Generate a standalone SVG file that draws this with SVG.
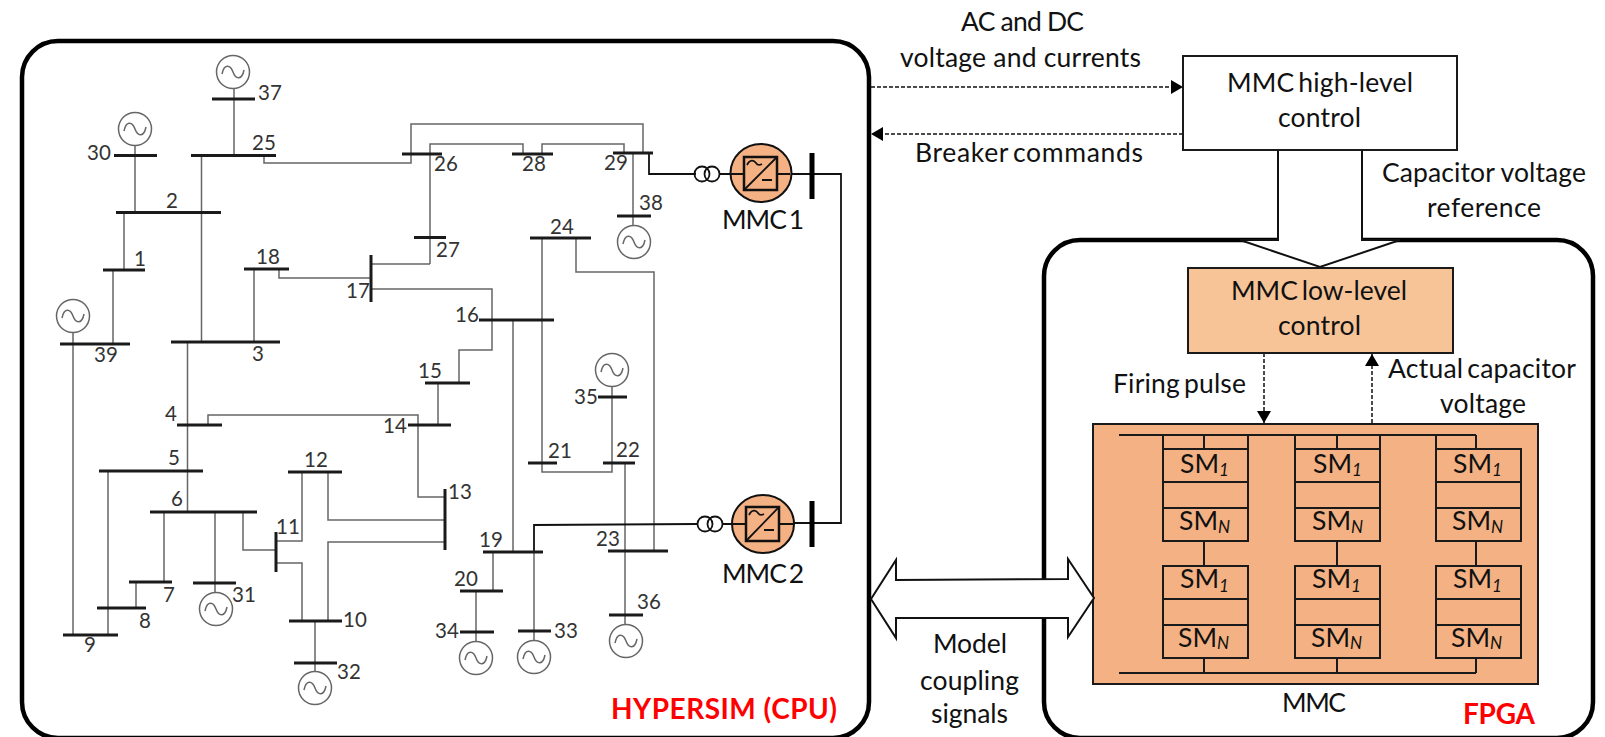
<svg xmlns="http://www.w3.org/2000/svg" width="1605" height="737" viewBox="0 0 1605 737">
<style>
text{font-family:Lato,"Liberation Sans",sans-serif;fill:#111}
.n{font-size:20.500px;fill:#333}
.t{font-size:26.500px}
.tn{font-size:26.500px;word-spacing:-3px}
.sub{font-size:17px;font-style:italic}
.red{font-size:28px;font-weight:700;fill:#f00}
.panel{fill:none;stroke:#000;stroke-width:4.5}
.bar{stroke:#1a1a1a;stroke-width:3;fill:none}
.w{fill:none;stroke:#666;stroke-width:1.5}
.k{fill:none;stroke:#111;stroke-width:1.8}
.d{fill:none;stroke:#111;stroke-width:1.5;stroke-dasharray:4 2}
.box{stroke:#1a1a1a;stroke-width:2}
.block{fill:#fff;stroke:#111;stroke-width:2}
.conv{fill:#f4b183;stroke:#111;stroke-width:2}
.sm{fill:none;stroke:#1a1a1a;stroke-width:2}
.gen{fill:#fff;stroke:#666;stroke-width:1.5}
.til{fill:none;stroke:#666;stroke-width:1.5}
.xf{fill:none;stroke:#111;stroke-width:1.8}
</style>
<defs>
<g id="gsym"><circle class="gen" r="16.5"/><path class="til" d="M-11 2C-9-8-3-8 0 0C3 8 9 8 11-2"/></g>
<marker id="ah" viewBox="0 0 12 14" refX="12" refY="7" markerWidth="12" markerHeight="14" markerUnits="userSpaceOnUse" orient="auto"><path d="M0 0L12 7L0 14Z" fill="#000"/></marker>
</defs>

<g id="panel-cpu"><rect class="panel" x="22" y="41" width="847" height="697" rx="36"/></g>
<g id="panel-fpga"><rect class="panel" x="1044" y="240" width="549" height="498" rx="36"/></g>

<g id="connectors">
<path class="w" d="M234 88V155M135 145V212M201.500 155V341M124 213V270M113 270V344M73 332V635"/>
<path class="w" d="M264 155V163H411V124H643V153M430 264V144H523V154M542 154V144H624V153M633 153V226"/>
<path class="w" d="M254 269V341M187.500 342V512"/>
<path class="w" d="M279 269V278H371M371 264H430M371 289H492V350H459V383M438 383V425M208 425V415H418V497H445"/>
<path class="w" d="M513 320V552M542 238V472H612V386M576 238V272H654V551M625 463V625M493 552V591M476 591V641M534 552V641"/>
<path class="w" d="M108 471V635M164 512V582M215 512V592M136 582V608M243 512V550H276M276 541H302V472M276 563H302V621M328 472V520H445M328 621V542H445M315 621V672"/>
<path class="k" d="M649 153V174H696M720 174H730M534 552V525L697 524M722 524H732"/>
<path class="k" d="M777 174H841V523H779M730 174H744M732 524H746"/>
<path class="d" d="M871 87H1183" marker-end="url(#ah)"/>
<path class="d" d="M1183 134H871" marker-end="url(#ah)"/>
<path class="d" d="M1264 353V423" marker-end="url(#ah)"/>
<path class="d" d="M1372 423V354" marker-end="url(#ah)"/>
</g>

<g id="bus-37"><path class="bar" d="M212 99H255"/><use href="#gsym" x="233" y="72"/><text class="n" x="258" y="100">37</text></g>
<g id="bus-30"><path class="bar" d="M114 155.500H157"/><use href="#gsym" x="135" y="129"/><text class="n" x="87" y="160">30</text></g>
<g id="bus-25"><path class="bar" d="M191 155.500H276"/><text class="n" x="252" y="150">25</text></g>
<g id="bus-2"><path class="bar" d="M116 212.500H221"/><text class="n" x="166" y="208">2</text></g>
<g id="bus-1"><path class="bar" d="M103 270H145"/><text class="n" x="134" y="266">1</text></g>
<g id="bus-18"><path class="bar" d="M244 269H289"/><text class="n" x="256" y="264">18</text></g>
<g id="bus-17"><path class="bar" d="M371 255V302"/><text class="n" x="346" y="298">17</text></g>
<g id="bus-39"><path class="bar" d="M60 344H130"/><use href="#gsym" x="73" y="316"/><text class="n" x="94" y="362">39</text></g>
<g id="bus-3"><path class="bar" d="M171 342H280"/><text class="n" x="252" y="361">3</text></g>
<g id="bus-26"><path class="bar" d="M402 154H442"/><text class="n" x="434" y="171">26</text></g>
<g id="bus-28"><path class="bar" d="M512 154H553"/><text class="n" x="522" y="171">28</text></g>
<g id="bus-29"><path class="bar" d="M613 153H653"/><text class="n" x="604" y="170">29</text></g>
<g id="bus-27"><path class="bar" d="M414 237.500H446"/><text class="n" x="436" y="257">27</text></g>
<g id="bus-38"><path class="bar" d="M617 216H651"/><use href="#gsym" x="634" y="242"/><text class="n" x="639" y="210">38</text></g>
<g id="bus-24"><path class="bar" d="M530 238H591"/><text class="n" x="550" y="234">24</text></g>
<g id="bus-16"><path class="bar" d="M479 320H554"/><text class="n" x="455" y="322">16</text></g>
<g id="bus-15"><path class="bar" d="M425 383H470"/><text class="n" x="418" y="378">15</text></g>
<g id="bus-14"><path class="bar" d="M408 425H451"/><text class="n" x="383" y="433">14</text></g>
<g id="bus-4"><path class="bar" d="M177 425H222"/><text class="n" x="165" y="421">4</text></g>
<g id="bus-5"><path class="bar" d="M99 471H203"/><text class="n" x="168" y="465">5</text></g>
<g id="bus-6"><path class="bar" d="M150 512H257"/><text class="n" x="171" y="506">6</text></g>
<g id="bus-12"><path class="bar" d="M288 472H342"/><text class="n" x="304" y="467">12</text></g>
<g id="bus-11"><path class="bar" d="M276 532V572"/><text class="n" x="276" y="534">11</text></g>
<g id="bus-13"><path class="bar" d="M445 489V550"/><text class="n" x="448" y="499">13</text></g>
<g id="bus-7"><path class="bar" d="M129 582H172"/><text class="n" x="163" y="602">7</text></g>
<g id="bus-31"><path class="bar" d="M193 583H236"/><use href="#gsym" x="216" y="609"/><text class="n" x="232" y="602">31</text></g>
<g id="bus-8"><path class="bar" d="M97 608H146"/><text class="n" x="139" y="628">8</text></g>
<g id="bus-9"><path class="bar" d="M63 635H118"/><text class="n" x="84" y="652">9</text></g>
<g id="bus-10"><path class="bar" d="M289 621H342"/><text class="n" x="343" y="627">10</text></g>
<g id="bus-32"><path class="bar" d="M294 663H337"/><use href="#gsym" x="315" y="688"/><text class="n" x="337" y="679">32</text></g>
<g id="bus-35"><path class="bar" d="M598 397H627"/><use href="#gsym" x="612" y="370"/><text class="n" x="574" y="404">35</text></g>
<g id="bus-21"><path class="bar" d="M528 463H557"/><text class="n" x="548" y="458">21</text></g>
<g id="bus-22"><path class="bar" d="M603 463H635"/><text class="n" x="616" y="457">22</text></g>
<g id="bus-19"><path class="bar" d="M483 552H543"/><text class="n" x="479" y="547">19</text></g>
<g id="bus-23"><path class="bar" d="M608 551H668"/><text class="n" x="596" y="546">23</text></g>
<g id="bus-20"><path class="bar" d="M460 591H503"/><text class="n" x="454" y="586">20</text></g>
<g id="bus-34"><path class="bar" d="M460 632H494"/><use href="#gsym" x="476" y="658"/><text class="n" x="435" y="638">34</text></g>
<g id="bus-33"><path class="bar" d="M518 631H551"/><use href="#gsym" x="534" y="657"/><text class="n" x="554" y="638">33</text></g>
<g id="bus-36"><path class="bar" d="M609 615H643"/><use href="#gsym" x="626" y="641"/><text class="n" x="637" y="609">36</text></g>

<g id="mmc1">
<circle class="xf" cx="702" cy="174" r="7.500"/><circle class="xf" cx="712" cy="174" r="7.500"/>
<ellipse class="conv" cx="761" cy="173" rx="30.500" ry="29"/>
<rect class="conv" style="stroke-width:2.500" x="744" y="157" width="33" height="33"/>
<path class="k" d="M744 174H730M777 174H790M744 190L777 157M747 165C750 159 754 160 756 163C758 166 760 165 762 164M762 180H772"/>
<path d="M812 153V199" stroke="#000" stroke-width="5"/>
<text class="tn" x="722" y="229" textLength="82">MMC 1</text>
</g>
<g id="mmc2">
<circle class="xf" cx="705" cy="524" r="7.500"/><circle class="xf" cx="715" cy="524" r="7.500"/>
<ellipse class="conv" cx="763" cy="524" rx="31" ry="29"/>
<rect class="conv" style="stroke-width:2.500" x="746" y="507" width="33" height="34"/>
<path class="k" d="M746 524H732M779 524H794M746 541L779 507M749 515C752 509 756 510 758 513C760 516 762 515 764 514M764 530H774"/>
<path d="M812 501V547" stroke="#000" stroke-width="5"/>
<text class="tn" x="722" y="583" textLength="82">MMC 2</text>
</g>

<g id="high-level">
<rect class="box" fill="#fff" x="1183" y="56" width="274" height="94"/>
<text class="tn" x="1227" y="92" textLength="186">MMC high-level</text>
<text class="t" x="1278" y="127" textLength="83">control</text>
</g>
<g id="block-arrow-down"><path class="block" d="M1278 151V240H1240L1320 267L1400 240H1362V151"/></g>
<g id="low-level">
<rect class="box" fill="#f7c498" x="1188" y="268" width="265" height="85"/>
<text class="tn" x="1231" y="300" textLength="176">MMC low-level</text>
<text class="t" x="1278" y="335" textLength="83">control</text>
</g>

<g id="mmc-block">
<rect class="box" fill="#f4b183" x="1093" y="424" width="445" height="260"/>
<path class="sm" d="M1119 435H1476M1119 673H1476"/>
<g id="arm-1"><path class="sm" d="M1163 435V449M1204 435V449M1248 435V449M1163 449H1248V541H1163ZM1163 482H1248M1163 508H1248M1204 541V566M1163 566H1248V658H1163ZM1163 599H1248M1163 625H1248M1204 658V673"/>
<text class="t" x="1180" y="473">SM</text><text class="sub" x="1219" y="476">1</text>
<text class="t" x="1179" y="530">SM</text><text class="sub" x="1218" y="533">N</text>
<text class="t" x="1180" y="588">SM</text><text class="sub" x="1219" y="592">1</text>
<text class="t" x="1178" y="647">SM</text><text class="sub" x="1217" y="649">N</text></g>
<g id="arm-2"><path class="sm" d="M1295 435V449M1337 435V449M1380 435V449M1295 449H1380V541H1295ZM1295 482H1380M1295 508H1380M1337 541V566M1295 566H1380V658H1295ZM1295 599H1380M1295 625H1380M1337 658V673"/>
<text class="t" x="1313" y="473">SM</text><text class="sub" x="1352" y="476">1</text>
<text class="t" x="1312" y="530">SM</text><text class="sub" x="1351" y="533">N</text>
<text class="t" x="1312" y="588">SM</text><text class="sub" x="1351" y="592">1</text>
<text class="t" x="1311" y="647">SM</text><text class="sub" x="1350" y="649">N</text></g>
<g id="arm-3"><path class="sm" d="M1436 435V449M1476 435V449M1436 449H1521V541H1436ZM1436 482H1521M1436 508H1521M1476 541V566M1436 566H1521V658H1436ZM1436 599H1521M1436 625H1521M1476 658V673"/>
<text class="t" x="1453" y="473">SM</text><text class="sub" x="1492" y="476">1</text>
<text class="t" x="1452" y="530">SM</text><text class="sub" x="1491" y="533">N</text>
<text class="t" x="1453" y="588">SM</text><text class="sub" x="1492" y="592">1</text>
<text class="t" x="1451" y="647">SM</text><text class="sub" x="1490" y="649">N</text></g>
</g>

<g id="block-arrow-both"><path class="block" d="M871 599L896 560V580L1068 579V559L1094 598L1068 637V618H896V638Z"/></g>

<g id="labels">
<text class="t" x="961" y="31" textLength="123">AC and DC</text>
<text class="t" x="900" y="67" textLength="241">voltage and currents</text>
<text class="tn" x="915" y="162" textLength="228">Breaker commands</text>
<text class="t" x="1382" y="182" textLength="204">Capacitor voltage</text>
<text class="t" x="1427" y="217" textLength="114">reference</text>
<text class="tn" x="1113" y="393" textLength="133">Firing pulse</text>
<text class="tn" x="1388" y="378" textLength="188">Actual capacitor</text>
<text class="t" x="1440" y="413" textLength="86">voltage</text>
<text class="t" x="933" y="653" textLength="74">Model</text>
<text class="t" x="920" y="690" textLength="99">coupling</text>
<text class="t" x="931" y="723" textLength="77">signals</text>
<text class="t" x="1282" y="712" textLength="64">MMC</text>
<text class="red" x="611" y="719" textLength="226">HYPERSIM (CPU)</text>
<text class="red" x="1463" y="724" textLength="72">FPGA</text>
</g>
</svg>
